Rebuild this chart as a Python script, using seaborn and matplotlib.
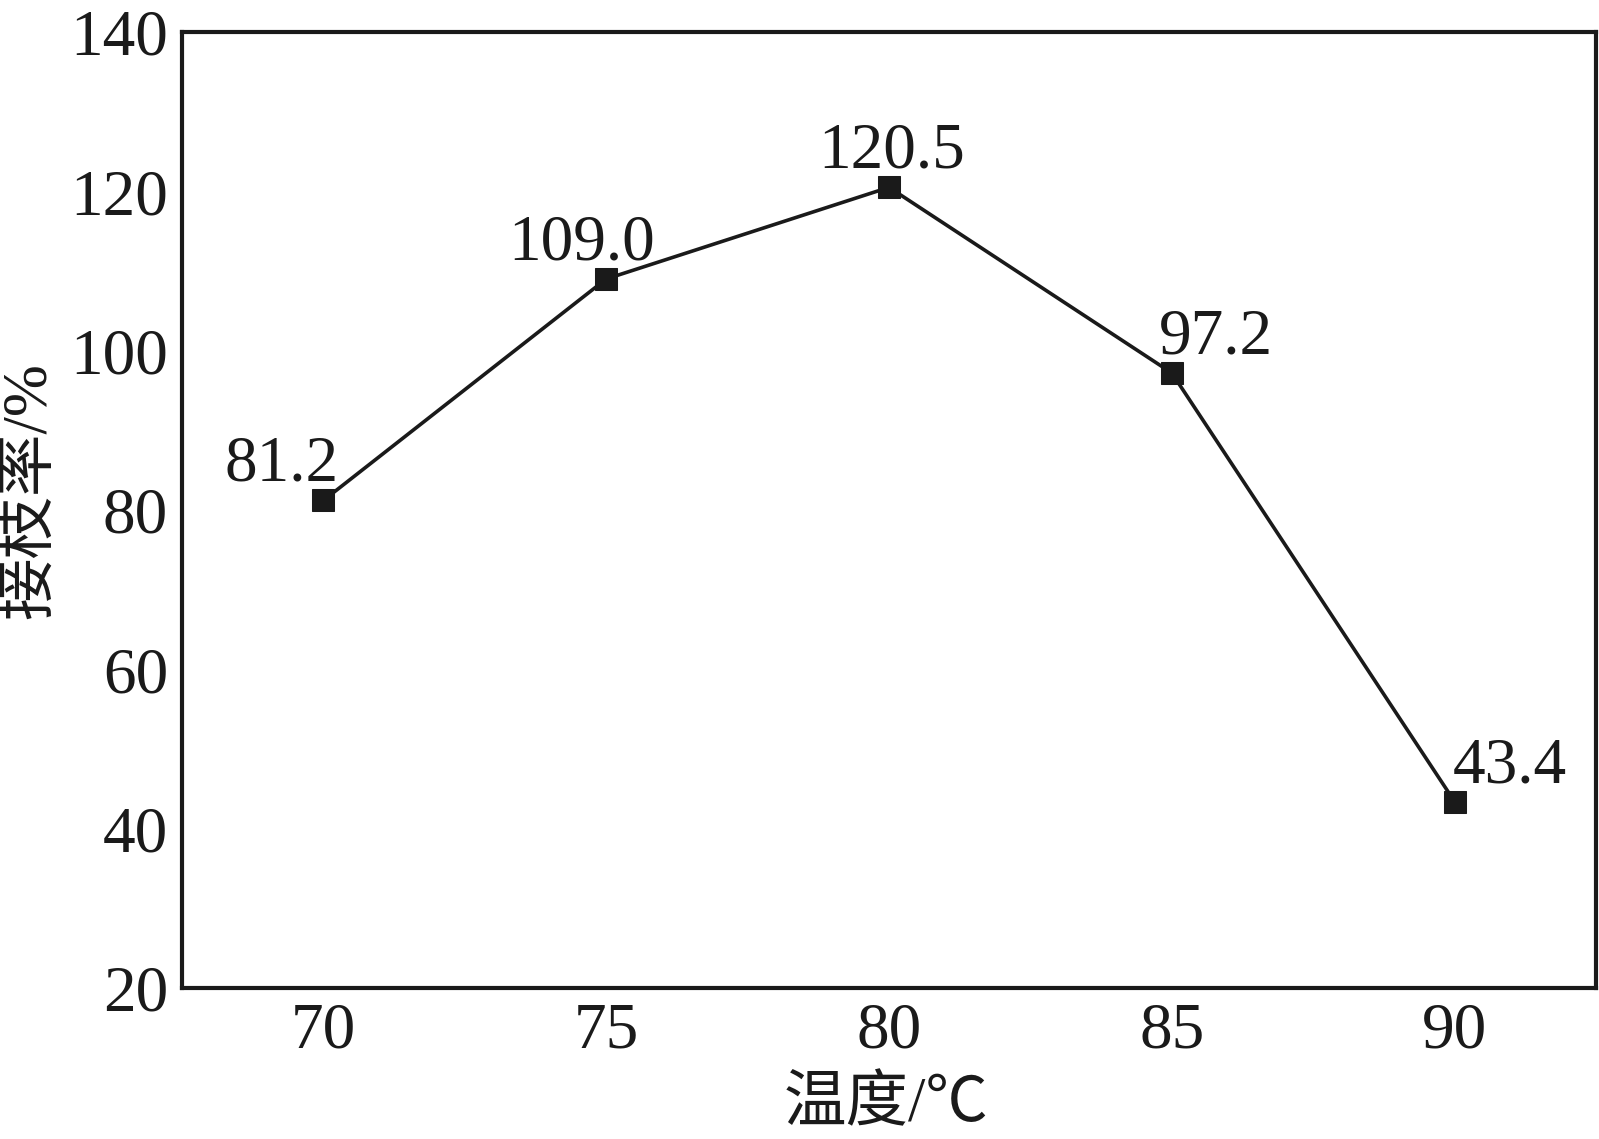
import matplotlib
matplotlib.use("Agg")
import matplotlib.pyplot as plt
import seaborn as sns
import pandas as pd

temperature = [70, 75, 80, 85, 90]
graft_rate = [81.2, 109.0, 120.5, 97.2, 43.4]
point_labels = ["81.2", "109.0", "120.5", "97.2", "43.4"]
x_ticks = [70, 75, 80, 85, 90]
y_ticks = [20, 40, 60, 80, 100, 120, 140]

sns.set_theme(style="white")
plt.rcParams['font.family'] = ['Liberation Serif', 'Noto Sans CJK SC']

df = pd.DataFrame({"t": temperature, "g": graft_rate})

fig = plt.figure(figsize=(15.99, 11.39), dpi=100)
ax = fig.add_axes([182/1599, 1 - 988/1139, (1596-182)/1599, (988-32)/1139])

sns.lineplot(data=df, x="t", y="g", ax=ax, color="#1a1a1a", linewidth=2.6,
             marker="s", markersize=16, markeredgecolor="#1a1a1a",
             markerfacecolor="#1a1a1a")

ax.set_xlim(67.5, 92.5)
ax.set_ylim(20, 140)
ax.set_xticks(x_ticks)
ax.set_yticks(y_ticks)
ax.tick_params(direction="in", length=18, width=2.5, labelsize=47, colors="#1a1a1a",
               pad=10)
for s in ax.spines.values():
    s.set_linewidth(3)
    s.set_color("#1a1a1a")

offsets = [(-30, 4), (-18, 4), (2, 4), (32, 4), (40, 4)]
for x, y, lab, (dx, dy) in zip(temperature, graft_rate, point_labels, offsets):
    ax.annotate(lab, (x, y), xytext=(dx, dy), textcoords="offset points",
                ha="center", va="bottom", fontsize=47, color="#1a1a1a")

ax.set_xlabel("温度/℃", fontsize=45, color="#1a1a1a")
ax.set_ylabel("接枝率/%", fontsize=45, color="#1a1a1a")
ax.xaxis.set_label_coords(0.498, -0.093)
ax.yaxis.set_label_coords(-0.087, 0.52)

fig.savefig("out.png", dpi=100, facecolor="white")
